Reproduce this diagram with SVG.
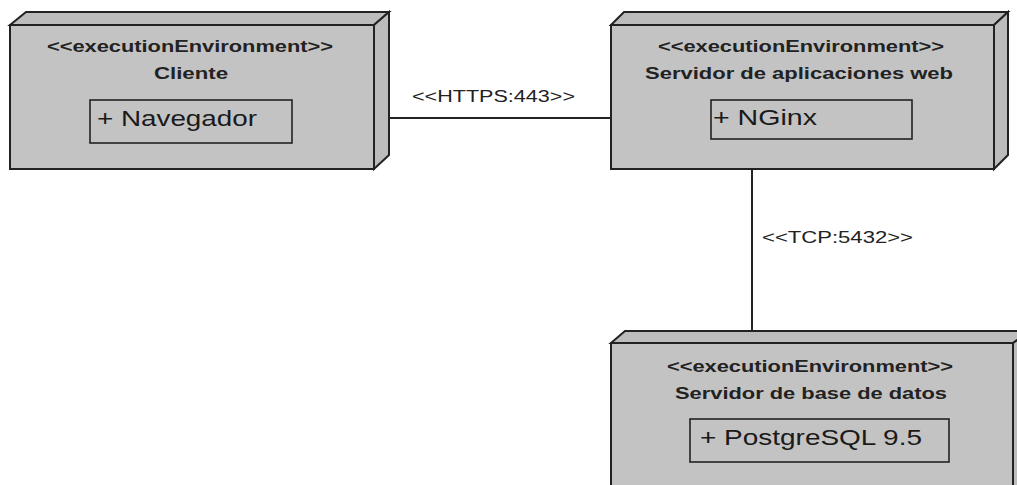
<svg xmlns="http://www.w3.org/2000/svg" width="1017" height="485" viewBox="0 0 1017 485">
<style>
.face{fill:#c3c3c3;stroke:#222;stroke-width:2;stroke-linejoin:miter}
.side{fill:#bcbcbc;stroke:#222;stroke-width:2}
.part{fill:none;stroke:#222;stroke-width:1.6}
.st{font-family:"Liberation Sans",Arial,sans-serif;font-weight:bold;font-size:16px;fill:#222;text-anchor:start}
.pt{font-family:"Liberation Sans",Arial,sans-serif;font-size:22px;fill:#1a1a1a}
.lb{font-family:"Liberation Sans",Arial,sans-serif;font-size:16px;fill:#222}
.conn{stroke:#222;stroke-width:2;fill:none}
</style>
<rect width="1017" height="485" fill="#fff"/>
<g id="connectors">
<line class="conn" x1="389" y1="118" x2="611" y2="118"/>
<line class="conn" x1="752" y1="169" x2="752" y2="331"/>
<text class="lb" x="412" y="102" textLength="163" lengthAdjust="spacingAndGlyphs">&lt;&lt;HTTPS:443&gt;&gt;</text>
<text class="lb" x="762" y="243" textLength="151" lengthAdjust="spacingAndGlyphs">&lt;&lt;TCP:5432&gt;&gt;</text>
</g>
<g id="cliente">
<polygon class="side" points="10,25 26,12 389,12 374,25"/>
<polygon class="side" points="374,25 389,12 389,155 374,169"/>
<rect class="face" x="10" y="25" width="364" height="144"/>
<text class="st" x="47" y="52" textLength="286" lengthAdjust="spacingAndGlyphs">&lt;&lt;executionEnvironment&gt;&gt;</text>
<text class="st" x="154" y="79" textLength="74" lengthAdjust="spacingAndGlyphs">Cliente</text>
<rect class="part" x="90" y="100" width="202" height="43"/>
<text class="pt" x="97" y="126" textLength="160" lengthAdjust="spacingAndGlyphs">+ Navegador</text>
</g>
<g id="servidor-web">
<polygon class="side" points="611,25 624,12 1008,12 994,25"/>
<polygon class="side" points="994,25 1008,12 1008,155 994,169"/>
<rect class="face" x="611" y="25" width="383" height="144"/>
<text class="st" x="658" y="52" textLength="286" lengthAdjust="spacingAndGlyphs">&lt;&lt;executionEnvironment&gt;&gt;</text>
<text class="st" x="645" y="79" textLength="308" lengthAdjust="spacingAndGlyphs">Servidor de aplicaciones web</text>
<rect class="part" x="711" y="100" width="201" height="39"/>
<text class="pt" x="713" y="125" textLength="104" lengthAdjust="spacingAndGlyphs">+ NGinx</text>
</g>
<g id="servidor-bd">
<polygon class="side" points="611,343 625,331 1030,331 1013,343"/>
<polygon class="side" points="1013,343 1030,331 1030,500 1013,500"/>
<rect class="face" x="611" y="343" width="402" height="160"/>
<text class="st" x="667" y="372" textLength="286" lengthAdjust="spacingAndGlyphs">&lt;&lt;executionEnvironment&gt;&gt;</text>
<text class="st" x="675" y="399" textLength="272" lengthAdjust="spacingAndGlyphs">Servidor de base de datos</text>
<rect class="part" x="690" y="419" width="259" height="43"/>
<text class="pt" x="700" y="445" textLength="222" lengthAdjust="spacingAndGlyphs">+ PostgreSQL 9.5</text>
</g>
</svg>
